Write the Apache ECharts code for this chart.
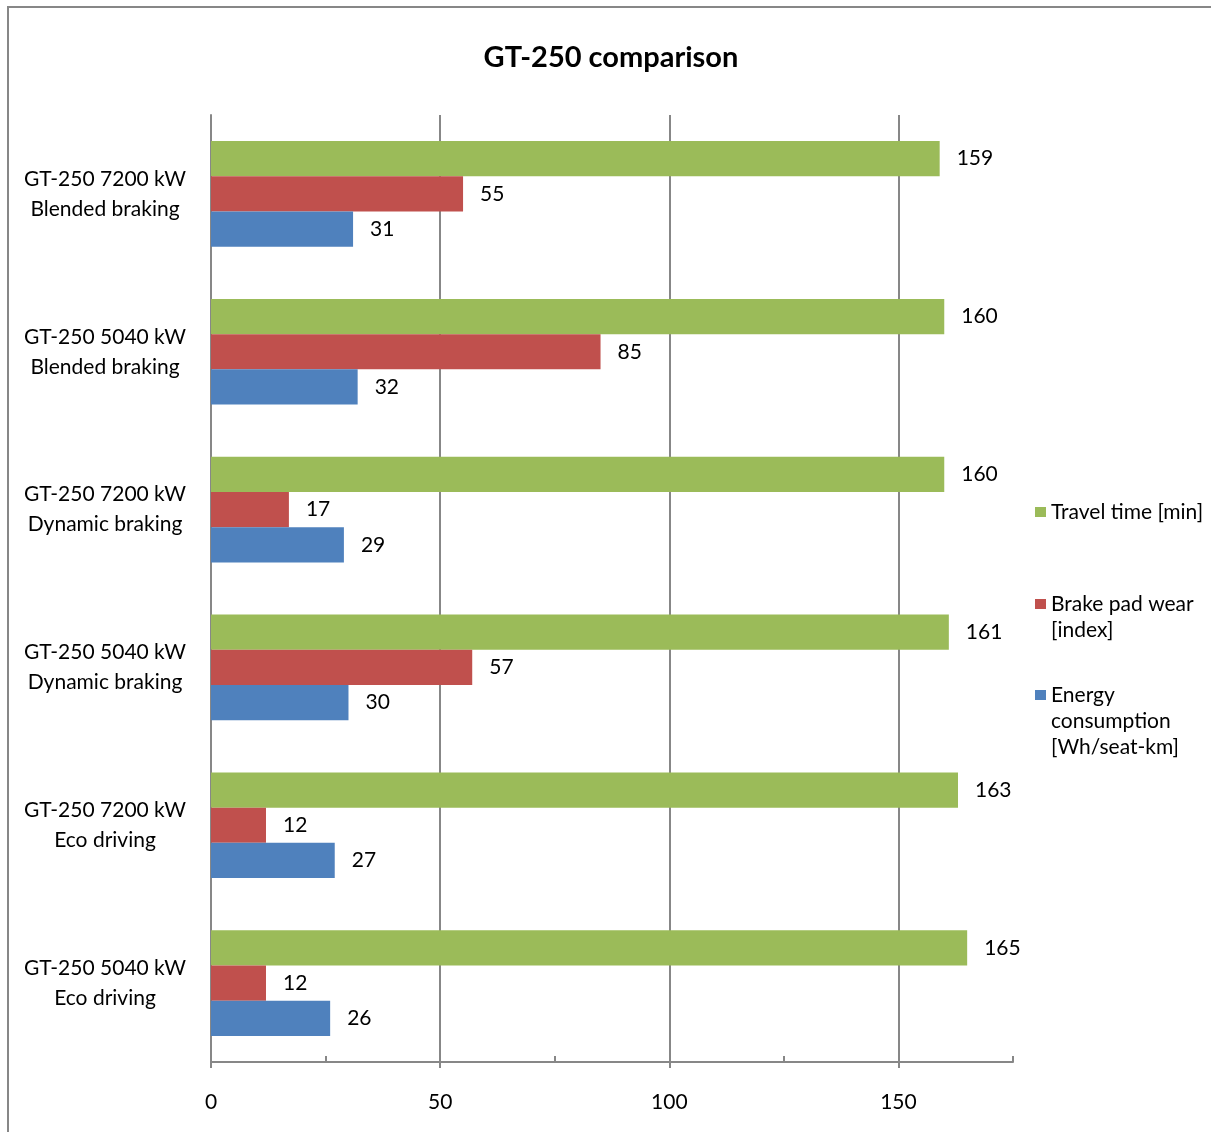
<!DOCTYPE html>
<html>
<head>
<meta charset="utf-8">
<title>GT-250 comparison</title>
<script src="https://cdn.jsdelivr.net/npm/echarts@6/dist/echarts.min.js"></script>
<style>
  html, body { margin: 0; padding: 0; background: #fff; }
  #chart { width: 1211px; height: 1132px; }
</style>
</head>
<body>
<div id="chart"></div>
<script>
// Scenarios, listed top to bottom
const categories = [
  'GT-250 7200 kW\nBlended braking',
  'GT-250 5040 kW\nBlended braking',
  'GT-250 7200 kW\nDynamic braking',
  'GT-250 5040 kW\nDynamic braking',
  'GT-250 7200 kW\nEco driving',
  'GT-250 5040 kW\nEco driving'
];

const seriesNames = ['Travel time [min]', 'Brake pad wear [index]', 'Energy consumption [Wh/seat-km]'];
const legendText = ['Travel time [min]', 'Brake pad wear\n[index]', 'Energy\nconsumption\n[Wh/seat-km]'];

const travelTime = [159, 160, 160, 161, 163, 165];
const brakePadWear = [55, 85, 17, 57, 12, 12];
const energyConsumption = [31, 32, 29, 30, 27, 26];

const axisTicks = [0, 50, 100, 150];

const colors = ['#9BBB59', '#C0504D', '#4F81BD'];
const FONT = 'Lato, "Open Sans", sans-serif';
const GRAY = '#878787';

const chart = echarts.init(document.getElementById('chart'), null, { renderer: 'canvas' });

const valueSets = [travelTime, brakePadWear, energyConsumption];

const series = seriesNames.map((name, i) => ({
  name: name,
  type: 'bar',
  data: valueSets[i],
  barGap: '0%',
  barCategoryGap: '33%',
  itemStyle: { color: colors[i] },
  label: {
    show: true,
    position: 'right',
    distance: 17,
    color: '#000',
    fontFamily: FONT,
    fontSize: 21
  },
  emphasis: { disabled: true }
}));

// One legend block per series so each icon lines up with the first line of its text
const legendIconTops = [507, 599, 690];
const lineH = 26;
const legends = seriesNames.map((name, i) => {
  const lines = legendText[i].split('\n');
  const n = lines.length;
  // leading blank lines keep the first text line centred on the icon
  const pad = new Array(n - 1).fill('').join('\n');
  const shown = (n > 1 ? pad + '\n' : '') + legendText[i];
  const offset = (2 * n - 1) * lineH / 2 - 5;
  return {
    orient: 'vertical',
    left: 1035,
    top: legendIconTops[i] - offset,
    padding: 0,
    itemWidth: 11,
    itemHeight: 10,
    icon: 'rect',
    selectedMode: false,
    data: [name],
    formatter: () => shown,
    textStyle: {
      fontFamily: FONT,
      fontSize: 21,
      lineHeight: lineH,
      color: '#000'
    }
  };
});

chart.setOption({
  backgroundColor: '#fff',
  animation: false,
  title: {
    text: 'GT-250 comparison',
    left: 606,
    textAlign: 'center',
    top: 38,
    textStyle: { fontFamily: FONT, fontSize: 29, fontWeight: 'bold', color: '#000' }
  },
  legend: legends,
  grid: { left: 211, right: 198, top: 115, bottom: 70, containLabel: false },
  xAxis: [{
    type: 'value',
    min: 0,
    max: 175,
    interval: 50,
    axisLine: { show: true, lineStyle: { color: GRAY, width: 2 } },
    axisTick: { show: true, length: 6, customValues: axisTicks, lineStyle: { color: GRAY, width: 2 } },
    splitLine: { show: true, showMinLine: false, lineStyle: { color: GRAY, width: 2 } },
    axisLabel: {
      margin: 30,
      fontFamily: FONT,
      fontSize: 21,
      color: '#000',
      customValues: axisTicks
    }
  }, {
    // inner quarter ticks along the bottom edge
    type: 'value',
    position: 'bottom',
    min: 0,
    max: 175,
    interval: 25,
    axisLine: { show: false },
    axisTick: { show: true, inside: true, length: 6, lineStyle: { color: GRAY, width: 2 } },
    splitLine: { show: false },
    axisLabel: { show: false }
  }],
  yAxis: {
    type: 'category',
    data: categories,
    inverse: true,
    axisLine: { show: true, lineStyle: { color: GRAY, width: 2 } },
    axisTick: { show: false },
    splitLine: { show: false },
    axisLabel: {
      align: 'center',
      margin: 106,
      fontFamily: FONT,
      fontSize: 21,
      lineHeight: 30,
      color: '#000'
    }
  },
  graphic: [{
    type: 'rect',
    shape: { x: 8, y: 7, width: 1400, height: 1400 },
    style: { fill: 'none', stroke: GRAY, lineWidth: 2 },
    silent: true
  }],
  series: series
});
</script>
</body>
</html>
